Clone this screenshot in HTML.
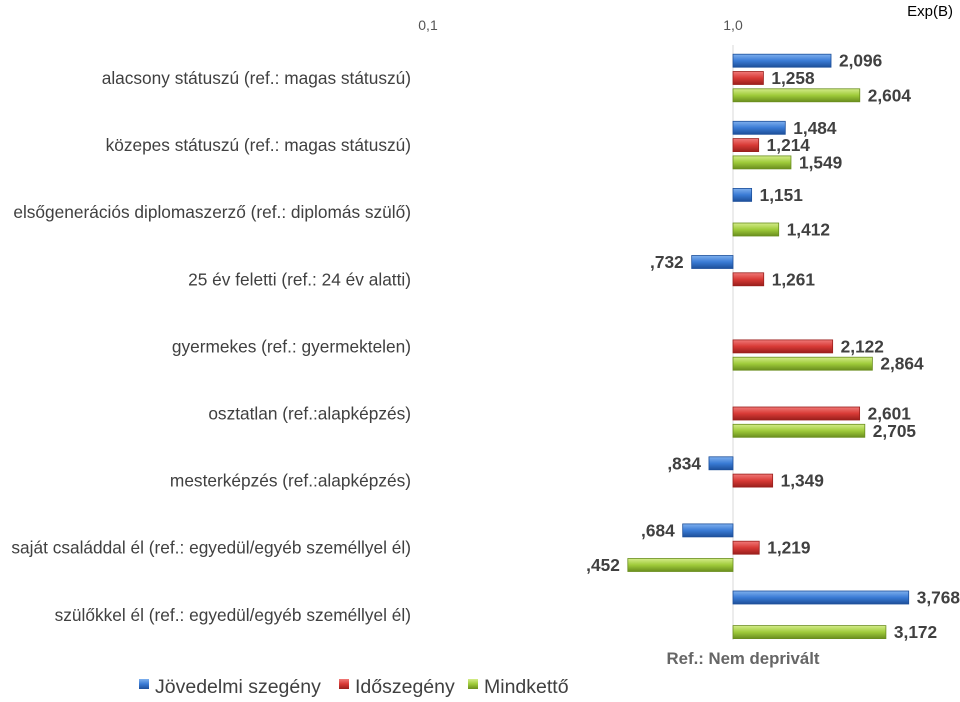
<!DOCTYPE html>
<html><head><meta charset="utf-8"><style>
body{margin:0;background:#fff;font-family:"Liberation Sans",sans-serif;}
svg text{font-family:"Liberation Sans",sans-serif;}
</style></head><body>
<svg id="chart" width="960" height="697" xmlns="http://www.w3.org/2000/svg">
<defs>
<linearGradient id="gb" x1="0" y1="0" x2="0" y2="1"><stop offset="0" stop-color="#7fb0ee"/><stop offset="0.5" stop-color="#3a7bd5"/><stop offset="1" stop-color="#1d4f9a"/></linearGradient>
<linearGradient id="gr" x1="0" y1="0" x2="0" y2="1"><stop offset="0" stop-color="#f07a78"/><stop offset="0.5" stop-color="#d83a36"/><stop offset="1" stop-color="#9a1f1c"/></linearGradient>
<linearGradient id="gg" x1="0" y1="0" x2="0" y2="1"><stop offset="0" stop-color="#d4ec8a"/><stop offset="0.5" stop-color="#9fcb3a"/><stop offset="1" stop-color="#6a8e1e"/></linearGradient>
</defs>
<text x="953" y="16" text-anchor="end" font-size="15" fill="#000">Exp(B)</text>
<text x="428" y="30" text-anchor="middle" font-size="14" fill="#555">0,1</text>
<text x="733" y="30" text-anchor="middle" font-size="14" fill="#555">1,0</text>
<line x1="733" y1="45" x2="733" y2="640" stroke="#d9d9d9" stroke-width="1"/>
<text x="743" y="664" text-anchor="middle" font-size="16.8" font-weight="bold" fill="#666">Ref.: Nem deprivált</text>
<g id="bars"></g>
<g>
<rect x="139" y="679" width="10" height="10" fill="url(#gb)"/>
<text x="155" y="693" font-size="19.5" fill="#404040">Jövedelmi szegény</text>
<rect x="339" y="679" width="10" height="10" fill="url(#gr)"/>
<text x="355" y="693" font-size="19.5" fill="#404040">Időszegény</text>
<rect x="468" y="679" width="10" height="10" fill="url(#gg)"/>
<text x="484" y="693" font-size="19.5" fill="#404040">Mindkettő</text>
</g>
</svg>
<script>
const categories=["alacsony státuszú (ref.: magas státuszú)","közepes státuszú (ref.: magas státuszú)","elsőgenerációs diplomaszerző (ref.: diplomás szülő)","25 év feletti (ref.: 24 év alatti)","gyermekes (ref.: gyermektelen)","osztatlan (ref.:alapképzés)","mesterképzés (ref.:alapképzés)","saját családdal él (ref.: egyedül/egyéb személlyel él)","szülőkkel él (ref.: egyedül/egyéb személlyel él)"];
const jovedelmi=[2.096,1.484,1.151,0.732,null,null,0.834,0.684,3.768];
const idoszegeny=[1.258,1.214,null,1.261,2.122,2.601,1.349,1.219,null];
const mindketto=[2.604,1.549,1.412,null,2.864,2.705,null,0.452,3.172];
const seriesNames=["jovedelmi","idoszegeny","mindketto"];
const seriesData=[jovedelmi,idoszegeny,mindketto];
const fills=["url(#gb)","url(#gr)","url(#gg)"];
const strokes=["#1d4f9a","#9a1f1c","#6a8e1e"];
const x=v=>733+Math.log10(v)*305;
const rowY=i=>78+i*67.1;
const NS="http://www.w3.org/2000/svg";
const g=document.getElementById('bars');
const fmt=v=>{let s=v.toFixed(3).replace('.',',');return s.startsWith('0')?s.slice(1):s;};
categories.forEach((c,i)=>{
  const t=document.createElementNS(NS,'text');
  
  
  t.setAttribute('x',411);t.setAttribute('y',rowY(i)+6);
  t.setAttribute('text-anchor','end');t.setAttribute('font-size','17.3');t.setAttribute('fill','#404040');
  t.textContent=c;g.appendChild(t);
  seriesData.forEach((arr,s)=>{
    const v=arr[i];if(v==null)return;
    const cy=rowY(i)+(s-1)*17.3;
    const x0=x(1),x1=x(v);
    const r=document.createElementNS(NS,'rect');
    
    
    r.setAttribute('x',Math.min(x0,x1));r.setAttribute('y',cy-6.5);
    r.setAttribute('width',Math.abs(x1-x0));r.setAttribute('height',13);
    r.setAttribute('fill',fills[s]);r.setAttribute('stroke',strokes[s]);r.setAttribute('stroke-width','0.8');
    g.appendChild(r);
    const l=document.createElementNS(NS,'text');
    
    
    const neg=v<1;
    l.setAttribute('x',neg?x1-8:x1+8);l.setAttribute('y',cy+6);
    l.setAttribute('text-anchor',neg?'end':'start');
    l.setAttribute('font-size','17.3');l.setAttribute('font-weight','bold');l.setAttribute('fill','#404040');
    l.textContent=fmt(v);g.appendChild(l);
  });
});
</script>
</body></html>
